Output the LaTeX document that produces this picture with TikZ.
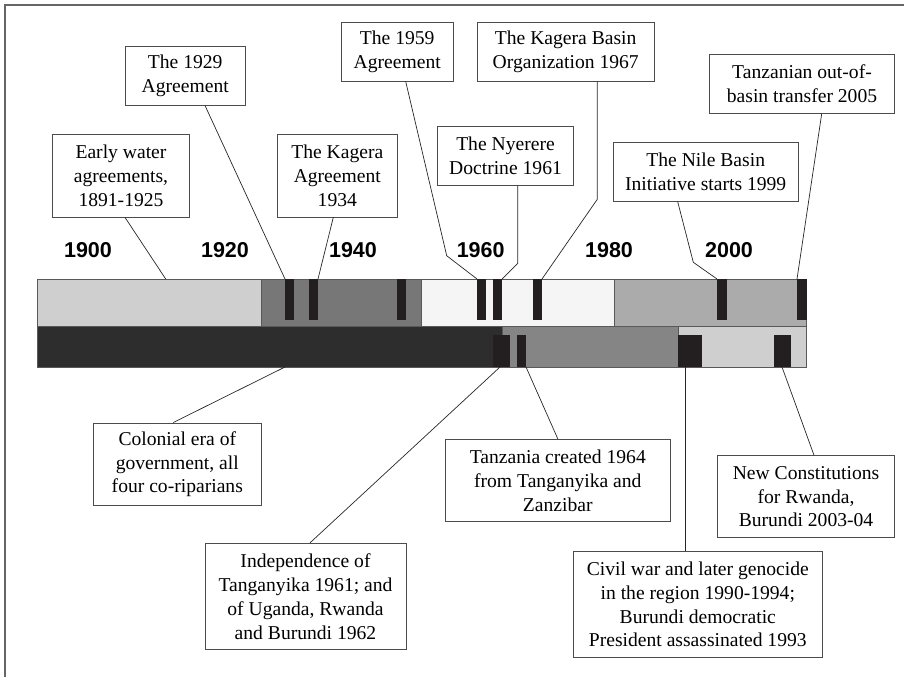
\documentclass[tikz,border=0pt]{standalone}
\usepackage{fontspec}
\setmainfont{Liberation Serif}
\newfontfamily\yearfont{Liberation Sans}
\usetikzlibrary{positioning}

\definecolor{earlygray}{HTML}{CFCFCF}
\definecolor{interwar}{HTML}{777777}
\definecolor{sixties}{HTML}{F5F5F5}
\definecolor{nineties}{HTML}{ABABAB}
\definecolor{colonial}{HTML}{2D2D2D}
\definecolor{postindep}{HTML}{858585}
\definecolor{recent}{HTML}{CFCFCF}
\definecolor{eventink}{HTML}{231F20}

\tikzset{
  box/.style={draw=black!70,line width=0.9pt,fill=white,align=center,inner sep=0pt,
    font=\fontsize{19.6}{23.8}\selectfont},
  year/.style={anchor=base,font=\yearfont\bfseries\fontsize{21.5}{24}\selectfont},
  era/.style={draw=black!65,line width=0.9pt},
  link/.style={draw=black!85,line width=0.7pt}
}

\begin{document}
\begin{tikzpicture}[x=1pt,y=-1pt]
\useasboundingbox (0,0) rectangle (904,677);
% frame
\draw[black!60,line width=1.5pt] (5,677) -- (5,5) -- (904,5);

% eras, upper band
\filldraw[era,fill=earlygray] (37,279) rectangle (261,326);
\filldraw[era,fill=interwar] (261,279) rectangle (421.5,326);
\filldraw[era,fill=sixties] (421.5,279) rectangle (614,326);
\filldraw[era,fill=nineties] (614,279) rectangle (806.5,326);
% eras, lower band
\filldraw[era,fill=colonial] (37,326) rectangle (502,367);
\filldraw[era,fill=postindep] (502,326) rectangle (678,367);
\filldraw[era,fill=recent] (678,326) rectangle (806.5,367);

% events, upper band
\fill[eventink] (285,279) rectangle (294,320);
\fill[eventink] (309,279) rectangle (318,320);
\fill[eventink] (397,279) rectangle (406,320);
\fill[eventink] (477,279) rectangle (486,320);
\fill[eventink] (493,279) rectangle (502,320);
\fill[eventink] (533,279) rectangle (542,320);
\fill[eventink] (717,279) rectangle (727,320);
\fill[eventink] (797,279) rectangle (807,320);
% events, lower band
\fill[eventink] (493,334.7) rectangle (510,367);
\fill[eventink] (517,334.7) rectangle (526,367);
\fill[eventink] (678,334.7) rectangle (702,367);
\fill[eventink] (774,334.7) rectangle (791,367);

% years
\node (y1900) at (88,257.5) [year] {1900};
\node (y1920) at (225,257.5) [year] {1920};
\node (y1940) at (353,257.5) [year] {1940};
\node (y1960) at (480.7,257.5) [year] {1960};
\node (y1980) at (609,257.5) [year] {1980};
\node (y2000) at (729,257.5) [year] {2000};

% end points on the bands
\coordinate (tEarly) at (165.7,279);
\coordinate (t1929) at (285,279);
\coordinate (t1934) at (318,279);
\coordinate (t1959) at (477,279);
\coordinate (t1961) at (502,279);
\coordinate (t1967) at (542,279);
\coordinate (t1999) at (717,279);
\coordinate (t2005) at (797,279);
\coordinate (bColonial) at (285,367);
\coordinate (b1961) at (500,367);
\coordinate (b1964) at (526,367);
\coordinate (b1990) at (685.7,367);
\coordinate (b2003) at (782,367);

% upper boxes
\node (early) at (121,175.8) [box,minimum width=136.6pt,minimum height=82.3pt] {Early water\\agreements,\\1891-1925};
\node (agr1929) at (185.2,75.7) [box,minimum width=120.3pt,minimum height=58.7pt] {The 1929\\Agreement};
\node (kagera) at (337.3,175.8) [box,minimum width=120pt,minimum height=82.3pt] {The Kagera\\Agreement\\1934};
\node (agr1959) at (397.2,51.7) [box,minimum width=111.7pt,minimum height=58.7pt] {The 1959\\Agreement};
\node (nyerere) at (505.5,156) [box,minimum width=136.4pt,minimum height=58.6pt] {The Nyerere\\Doctrine 1961};
\node (kbo) at (565.7,51.7) [box,minimum width=176.7pt,minimum height=58.7pt] {The Kagera Basin\\Organization 1967};
\node (nbi) at (705.7,172) [box,minimum width=184.7pt,minimum height=58.6pt] {The Nile Basin\\Initiative starts 1999};
\node (transfer) at (802,83.8) [box,minimum width=184.6pt,minimum height=59pt] {Tanzanian out-of-\\basin transfer 2005};

% lower boxes
\node (colonialera) at (177.3,464.3) [box,minimum width=168.7pt,minimum height=82.7pt] {Colonial era of\\government, all\\four co-riparians};
\node (indep) at (305.5,596.5) [box,minimum width=201pt,minimum height=106.4pt] {Independence of\\Tanganyika 1961; and\\of Uganda, Rwanda\\and Burundi 1962};
\node (tanzania) at (557.8,480.5) [box,minimum width=224.3pt,minimum height=82.4pt] {Tanzania created 1964\\from Tanganyika and\\Zanzibar};
\node (constit) at (806,496.7) [box,minimum width=176.6pt,minimum height=82pt] {New Constitutions\\for Rwanda,\\Burundi 2003-04};
\node (civilwar) at (697.8,604.5) [box,minimum width=248.3pt,minimum height=105.6pt] {Civil war and later genocide\\in the region 1990-1994;\\Burundi democratic\\President assassinated 1993};

% connectors
\draw[link] ([xshift=4pt]early.south) -- (tEarly);
\draw[link] ([xshift=19.8pt]agr1929.south) -- (t1929);
\draw[link] ([xshift=-4pt]kagera.south) -- (t1934);
\draw[link] ([xshift=8.5pt]agr1959.south) -- (446.7,255.7) -- (t1959);
\draw[link] ([xshift=12.2pt]nyerere.south) -- (517.7,263.3) -- (t1961);
\draw[link] ([xshift=31.6pt]kbo.south) -- (597.3,199.3) -- (t1967);
\draw[link] ([xshift=-28pt]nbi.south) -- (693.3,262.3) -- (t1999);
\draw[link] ([xshift=19.7pt]transfer.south) -- (t2005);
\draw[link] ([xshift=-4pt]colonialera.north) -- (bColonial);
\draw[link] ([xshift=4.5pt]indep.north) -- (b1961);
\draw[link] (tanzania.north) -- (b1964);
\draw[link] ([xshift=-12.1pt]civilwar.north) -- (b1990);
\draw[link] ([xshift=8pt]constit.north) -- (b2003);
\end{tikzpicture}
\end{document}
